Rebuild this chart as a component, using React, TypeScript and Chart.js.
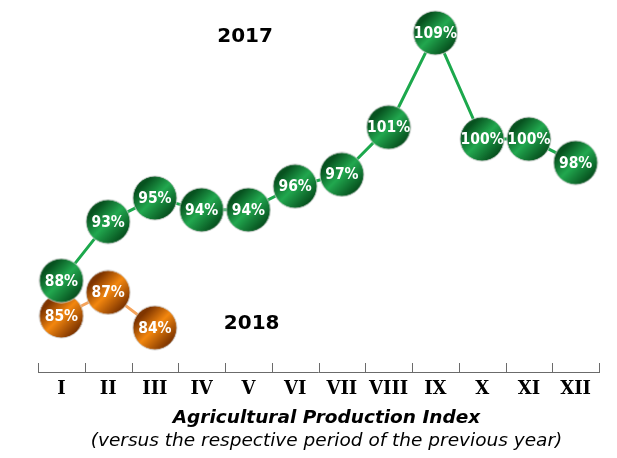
import React, { useEffect, useRef } from "react";
import { Chart, registerables } from "chart.js";

Chart.register(...registerables);

const months = ["I", "II", "III", "IV", "V", "VI", "VII", "VIII", "IX", "X", "XI", "XII"];
const index2017 = [88, 93, 95, 94, 94, 96, 97, 101, 109, 100, 100, 98];
const index2018 = [85, 87, 84];
const seriesNames = ["2017", "2018"];
const axisTitle = "Agricultural Production Index";
const subTitle = "(versus the respective period of the previous year)";

function makeBubble(r: number, dark: string, light: string) {
  const c = document.createElement("canvas");
  const s = r * 2 + 2;
  c.width = s;
  c.height = s;
  const ctx = c.getContext("2d")!;
  const g = ctx.createLinearGradient(2, 2, s - 2, s - 2);
  g.addColorStop(0, dark);
  g.addColorStop(0.2, dark);
  g.addColorStop(0.5, light);
  g.addColorStop(0.85, dark);
  g.addColorStop(1, dark);
  ctx.beginPath();
  ctx.arc(s / 2, s / 2, r, 0, Math.PI * 2);
  ctx.fillStyle = g;
  ctx.fill();
  ctx.lineWidth = 1;
  ctx.strokeStyle = "rgba(210,210,210,0.9)";
  ctx.stroke();
  return c;
}

const valueLabels = {
  id: "valueLabels",
  afterDatasetsDraw(chart: any) {
    const ctx = chart.ctx;
    ctx.save();
    ctx.fillStyle = "#ffffff";
    ctx.font = "bold 15.5px 'DejaVu Sans Condensed', 'DejaVu Sans', sans-serif";
    ctx.textAlign = "center";
    ctx.textBaseline = "middle";
    chart.data.datasets.forEach((ds: any, i: number) => {
      const meta = chart.getDatasetMeta(i);
      meta.data.forEach((el: any, j: number) => {
        ctx.fillText(`${ds.data[j]}%`, el.x, el.y + 1);
      });
    });
    ctx.restore();
  },
};

const axisDecor = {
  id: "axisDecor",
  afterDraw(chart: any) {
    const ctx = chart.ctx;
    const x = chart.scales.x;
    const yPix = chart.chartArea.bottom;
    ctx.save();
    ctx.strokeStyle = "#6b6b6b";
    ctx.lineWidth = 1;
    ctx.beginPath();
    const left = x.getPixelForValue(-0.5);
    const right = x.getPixelForValue(months.length - 0.5);
    ctx.moveTo(left, yPix + 0.5);
    ctx.lineTo(right, yPix + 0.5);
    for (let i = 0; i <= months.length; i++) {
      const px = Math.round(x.getPixelForValue(i - 0.5)) + 0.5;
      ctx.moveTo(px, yPix + 1);
      ctx.lineTo(px, yPix - 9);
    }
    ctx.stroke();
    // series names
    const y = chart.scales.y;
    ctx.fillStyle = "#000";
    ctx.font = "bold 20px 'DejaVu Sans', sans-serif";
    ctx.textAlign = "center";
    ctx.textBaseline = "middle";
    ctx.fillText(seriesNames[0], x.getPixelForValue(3.93), y.getPixelForValue(108.7));
    ctx.fillText(seriesNames[1], x.getPixelForValue(4.07), y.getPixelForValue(84.37));
    // titles below the axis
    const cx = (left + right) / 2 + 8;
    ctx.font = "italic bold 18.5px 'DejaVu Sans', sans-serif";
    ctx.fillText(axisTitle, cx, yPix + 46);
    ctx.font = "italic 18.5px 'DejaVu Sans', sans-serif";
    ctx.fillText(subTitle, cx, yPix + 69);
    ctx.restore();
  },
};

export default function App() {
  const ref = useRef<HTMLCanvasElement>(null);
  useEffect(() => {
    const green = makeBubble(22, "#07521f", "#22a84f");
    const orange = makeBubble(22, "#7f3500", "#f3870f");
    const chart = new Chart(ref.current!, {
      type: "line",
      data: {
        labels: months,
        datasets: [
          {
            label: seriesNames[0],
            data: index2017,
            borderColor: "#1ca84c",
            borderWidth: 3,
            tension: 0,
            pointStyle: green as any,
            pointRadius: 22,
            clip: false as any,
          },
          {
            label: seriesNames[1],
            data: index2018,
            borderColor: "#f5a35a",
            borderWidth: 3,
            tension: 0,
            pointStyle: orange as any,
            pointRadius: 22,
            clip: false as any,
          },
        ],
      },
      options: {
        animation: false,
        responsive: false,
        layout: { autoPadding: false, padding: { left: 38, right: 18, top: 6.4, bottom: 50.4 } },
        plugins: {
          legend: { display: false },
          tooltip: { enabled: false },
        },
        scales: {
          x: {
            type: "category",
            offset: true,
            grid: { display: false, drawTicks: false, tickLength: 0 },
            border: { display: false },
            ticks: {
              color: "#000",
              padding: 7,
              autoSkip: false,
              maxRotation: 0,
              font: { family: "'DejaVu Serif', serif", size: 18, weight: "bold" },
            },
          },
          y: {
            display: false,
            min: 80.25,
            max: 111.25,
          },
        },
      },
      plugins: [valueLabels, axisDecor],
    });
    return () => chart.destroy();
  }, []);
  return (
    <div style={{ position: "fixed", left: 0, top: 0, width: 617, height: 458, background: "#fff" }}>
      <canvas ref={ref} width={617} height={458} style={{ display: "block" }} />
    </div>
  );
}
